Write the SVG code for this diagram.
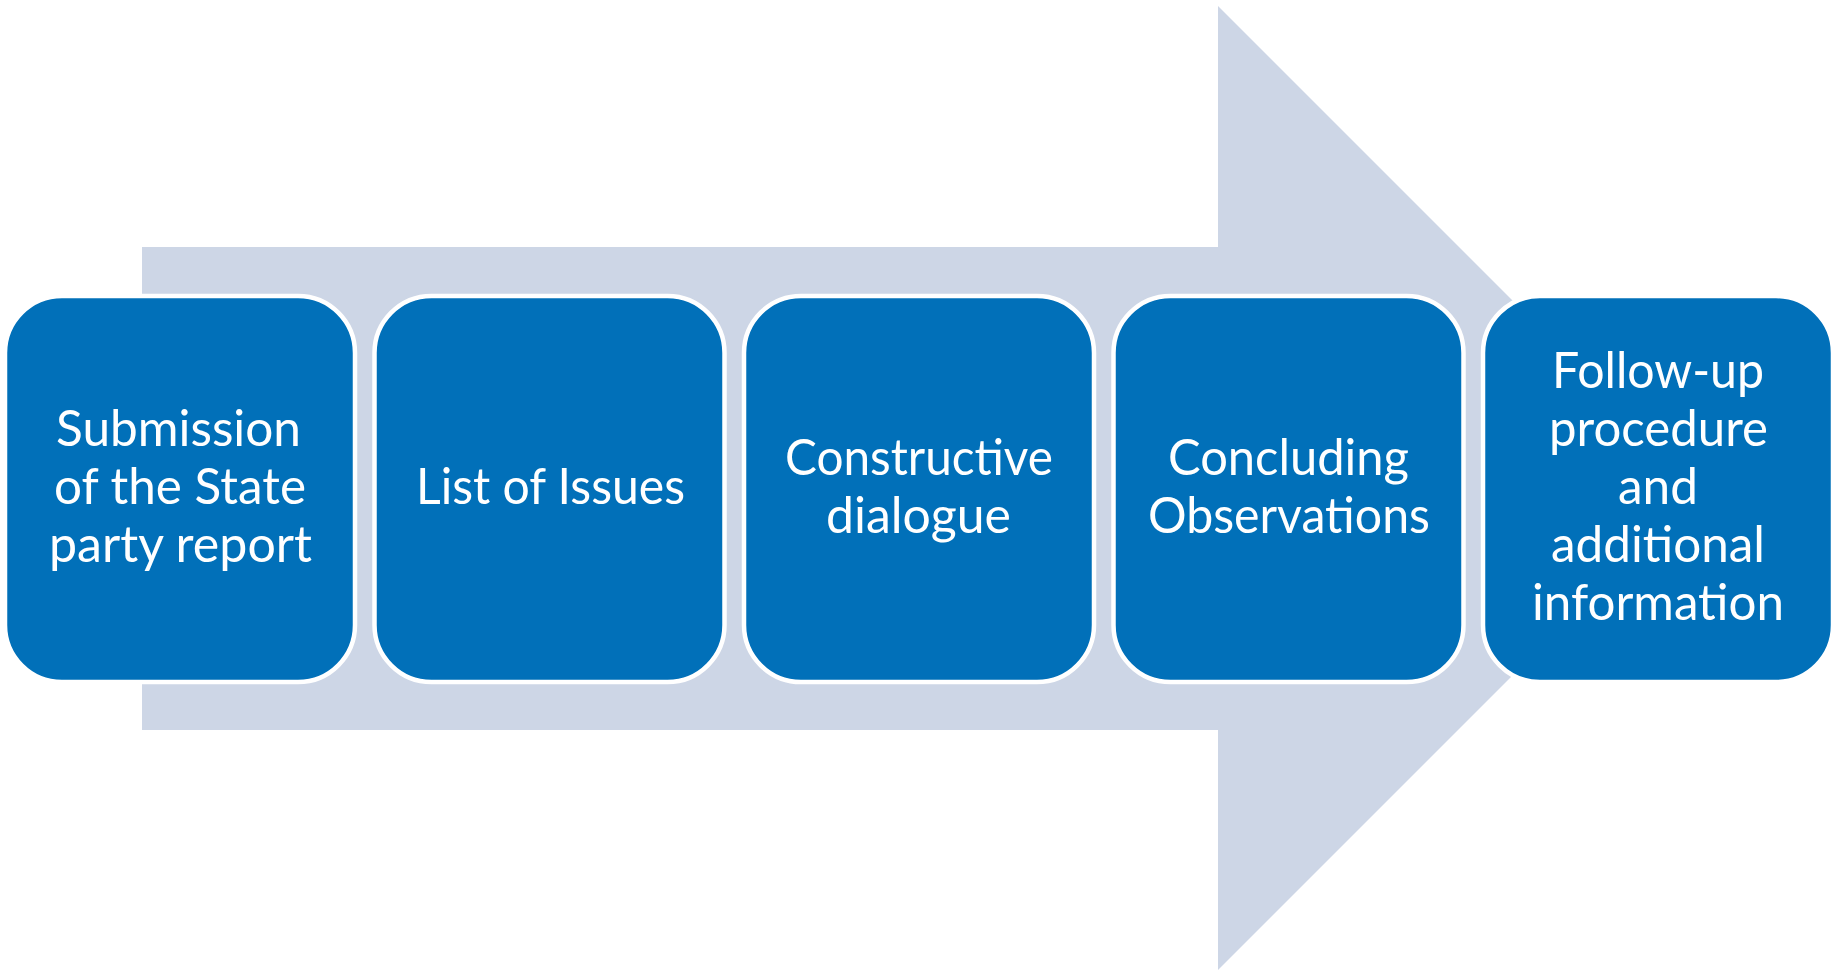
<svg xmlns="http://www.w3.org/2000/svg" width="1833" height="972" viewBox="0 0 1833 972">
<style>
.box{fill:#0170B9;stroke:#FFFFFF;stroke-width:4.5}
.lbl{font-family:Lato,"Noto Sans","Liberation Sans",sans-serif;font-size:50px;fill:#FFFFFF;text-anchor:start}
</style>
<rect width="1833" height="972" fill="#FFFFFF"/>
<g id="arrow">
<polygon points="142,247 1218,247 1218,6 1700,488 1218,970 1218,730 142,730" fill="#CDD6E6"/>
</g>
<g id="connectors"></g>
<g id="node1">
<rect class="box" x="5" y="296" width="350" height="386" rx="57" ry="57"/>
<text class="lbl" x="56" y="446" textLength="245" lengthAdjust="spacingAndGlyphs">Submission</text>
<text class="lbl" x="54" y="504" textLength="252" lengthAdjust="spacingAndGlyphs">of the State</text>
<text class="lbl" x="49" y="562" textLength="263" lengthAdjust="spacingAndGlyphs">party report</text>
</g>
<g id="node2">
<rect class="box" x="374.5" y="296" width="350" height="386" rx="57" ry="57"/>
<text class="lbl" x="416" y="504" textLength="269" lengthAdjust="spacingAndGlyphs">List of Issues</text>
</g>
<g id="node3">
<rect class="box" x="744" y="296" width="350" height="386" rx="57" ry="57"/>
<text class="lbl" x="785" y="475" textLength="268" lengthAdjust="spacingAndGlyphs">Constructive</text>
<text class="lbl" x="826" y="533" textLength="185" lengthAdjust="spacingAndGlyphs">dialogue</text>
</g>
<g id="node4">
<rect class="box" x="1113.5" y="296" width="350" height="386" rx="57" ry="57"/>
<text class="lbl" x="1168" y="475" textLength="241" lengthAdjust="spacingAndGlyphs">Concluding</text>
<text class="lbl" x="1148" y="533" textLength="282" lengthAdjust="spacingAndGlyphs">Observations</text>
</g>
<g id="node5">
<rect class="box" x="1483" y="296" width="350" height="386" rx="57" ry="57"/>
<text class="lbl" x="1552" y="388" textLength="212" lengthAdjust="spacingAndGlyphs">Follow-up</text>
<text class="lbl" x="1549" y="446" textLength="219" lengthAdjust="spacingAndGlyphs">procedure</text>
<text class="lbl" x="1618" y="504" textLength="80" lengthAdjust="spacingAndGlyphs">and</text>
<text class="lbl" x="1551" y="562" textLength="214" lengthAdjust="spacingAndGlyphs">additional</text>
<text class="lbl" x="1532" y="620" textLength="252" lengthAdjust="spacingAndGlyphs">information</text>
</g>
</svg>
